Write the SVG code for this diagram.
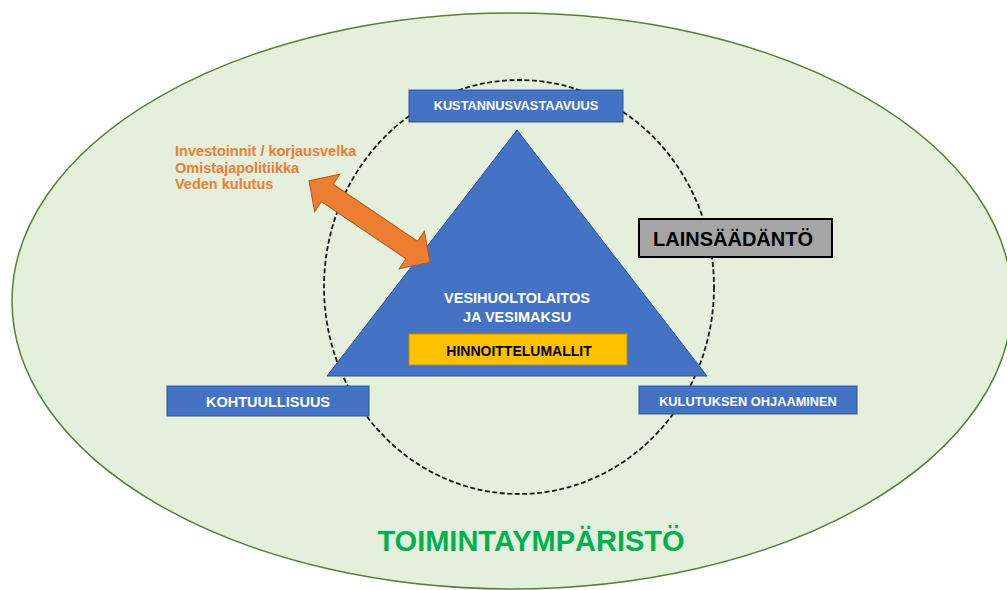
<svg xmlns="http://www.w3.org/2000/svg" width="1007" height="590" viewBox="0 0 1007 590">
<style>
  text { font-family: "Liberation Sans", Arial, sans-serif; font-weight: bold; }
  .blue { fill: #4472C4; stroke: #2F528F; stroke-width: 1; }
  .wt { fill: #FFFFFF; text-anchor: middle; }
  .or { fill: #ED7D31; font-size: 14.5px; }
</style>
<rect width="1007" height="590" fill="#FFFFFF"/>
<g id="environment">
  <ellipse cx="512" cy="301" rx="500" ry="288" fill="#E4EFDC" stroke="#548235" stroke-width="1.5"/>
  <text x="531" y="551" font-size="29" fill="#00B050" text-anchor="middle">TOIMINTAYMPÄRISTÖ</text>
</g>
<g id="connectors">
  <ellipse cx="519" cy="287" rx="195" ry="207" fill="none" stroke="#1A1A1A" stroke-width="1.8" stroke-dasharray="5,2.5"/>
</g>
<g id="vesihuoltolaitos">
  <polygon class="blue" points="517,130 327,376 707,376"/>
  <text class="wt" x="517" y="303" font-size="14.5">VESIHUOLTOLAITOS</text>
  <text class="wt" x="517" y="322" font-size="14.5">JA VESIMAKSU</text>
</g>
<g id="hinnoittelumallit">
  <rect x="409" y="334" width="218" height="31" fill="#FFC000" stroke="#BF9000" stroke-width="1"/>
  <text x="519" y="356" font-size="14" fill="#000000" text-anchor="middle">HINNOITTELUMALLIT</text>
</g>
<g id="kustannusvastaavuus">
  <rect class="blue" x="409" y="90" width="214" height="32"/>
  <text class="wt" x="516" y="110" font-size="12.8">KUSTANNUSVASTAAVUUS</text>
</g>
<g id="kohtuullisuus">
  <rect class="blue" x="167" y="386" width="202" height="30"/>
  <text class="wt" x="268" y="407" font-size="14.5">KOHTUULLISUUS</text>
</g>
<g id="kulutuksen">
  <rect class="blue" x="639" y="386" width="218" height="28"/>
  <text class="wt" x="748" y="406" font-size="12.8">KULUTUKSEN OHJAAMINEN</text>
</g>
<g id="lainsaadanto">
  <rect x="639" y="219" width="193" height="38" fill="#A5A5A5" stroke="#000000" stroke-width="2"/>
  <text x="733" y="246" font-size="20" fill="#000000" text-anchor="middle">LAINSÄÄDÄNTÖ</text>
</g>
<g id="tekijat">
  <text class="or" x="175" y="156">Investoinnit / korjausvelka</text>
  <text class="or" x="175" y="173">Omistajapolitiikka</text>
  <text class="or" x="175" y="189">Veden kulutus</text>
</g>
<g id="arrow">
  <polygon transform="translate(369.5,221.5) rotate(34)" points="-73,0 -51,-22.5 -51,-10.5 51,-10.5 51,-22.5 73,0 51,22.5 51,10.5 -51,10.5 -51,22.5" fill="#ED7D31" stroke="#AE5A21" stroke-width="1"/>
</g>
</svg>
